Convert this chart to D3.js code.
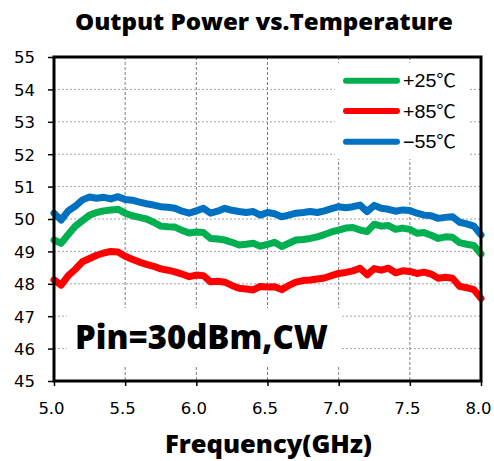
<!DOCTYPE html>
<html>
<head>
<meta charset="utf-8">
<script src="https://cdn.jsdelivr.net/npm/d3@7"></script>
<style>
  html, body { margin: 0; padding: 0; background: #fff; }
  svg { display: block; }
</style>
</head>
<body>
<svg id="chart" width="494" height="461"></svg>
<script>
const freq = [5.00,5.05,5.10,5.15,5.20,5.25,5.30,5.35,5.40,5.45,5.50,5.55,5.60,5.65,5.70,5.75,5.80,5.85,5.90,5.95,
  6.00,6.05,6.10,6.15,6.20,6.25,6.30,6.35,6.40,6.45,6.50,6.55,6.60,6.65,6.70,6.75,6.80,6.85,6.90,6.95,
  7.00,7.05,7.10,7.15,7.20,7.25,7.30,7.35,7.40,7.45,7.50,7.55,7.60,7.65,7.70,7.75,7.80,7.85,7.90,7.95,8.00];

const p25 = [49.35,49.25,49.52,49.78,49.95,50.12,50.20,50.25,50.28,50.30,50.18,50.10,50.05,50.00,49.90,49.78,49.76,49.75,49.65,49.57,
  49.60,49.58,49.40,49.38,49.35,49.28,49.20,49.22,49.25,49.16,49.22,49.28,49.15,49.25,49.35,49.37,49.40,49.45,49.52,49.60,
  49.66,49.72,49.74,49.66,49.61,49.84,49.78,49.80,49.68,49.72,49.68,49.56,49.58,49.50,49.40,49.45,49.44,49.27,49.22,49.18,48.92];

const p85 = [48.12,47.96,48.25,48.45,48.68,48.78,48.88,48.95,49.00,48.98,48.85,48.76,48.67,48.60,48.54,48.46,48.42,48.37,48.30,48.22,
  48.27,48.25,48.06,48.08,48.05,47.95,47.86,47.84,47.81,47.92,47.90,47.91,47.82,47.95,48.05,48.10,48.12,48.15,48.18,48.25,
  48.32,48.35,48.40,48.48,48.28,48.47,48.42,48.48,48.34,48.40,48.38,48.32,48.36,48.30,48.17,48.20,48.17,47.92,47.88,47.82,47.55];

const m55 = [50.18,49.97,50.25,50.40,50.59,50.68,50.64,50.67,50.62,50.69,50.60,50.58,50.52,50.47,50.43,50.38,50.36,50.33,50.24,50.18,
  50.25,50.33,50.18,50.24,50.33,50.27,50.23,50.20,50.23,50.12,50.20,50.16,50.07,50.12,50.18,50.20,50.23,50.20,50.25,50.32,
  50.38,50.35,50.38,50.43,50.23,50.42,50.33,50.30,50.24,50.28,50.26,50.18,50.12,50.10,50.02,50.05,50.07,49.90,49.85,49.78,49.51];

const seriesNames = ["+25℃", "+85℃", "−55℃"];
const seriesColors = ["#00B050", "#FF0000", "#0070C0"];
const xTicks = [5.0,5.5,6.0,6.5,7.0,7.5,8.0];
const yTicks = [45,46,47,48,49,50,51,52,53,54,55];
const titleText = "Output Power vs.Temperature";
const xTitle = "Frequency(GHz)";
const noteText = "Pin=30dBm,CW";

const svg = d3.select("#chart");
const L = 54, R = 481, T = 57, B = 381;
const x = d3.scaleLinear().domain([5, 8]).range([L, R]);
const y = d3.scaleLinear().domain([45, 55]).range([B, T]);

// grid
const g = svg.append("g");
g.selectAll(".hg").data(yTicks.slice(1, -1)).enter().append("line")
  .attr("x1", L).attr("x2", R).attr("y1", d => y(d)).attr("y2", d => y(d))
  .attr("stroke", "#a6a6a6").attr("stroke-width", 1).attr("stroke-dasharray", "2,2");
g.selectAll(".vg").data(xTicks.slice(1, -1)).enter().append("line")
  .attr("y1", T).attr("y2", B).attr("x1", d => x(d)).attr("x2", d => x(d))
  .attr("stroke", "#7f7f7f").attr("stroke-width", 1).attr("stroke-dasharray", "3,2");

// white boxes (legend & note) covering grid
svg.append("rect").attr("x", 335).attr("y", 63).attr("width", 133).attr("height", 96).attr("fill", "#fff");
svg.append("rect").attr("x", 67).attr("y", 308).attr("width", 273).attr("height", 57).attr("fill", "#fff");

// series
const series = [p25, p85, m55];
const line = d3.line().x((d, i) => x(freq[i])).y(d => y(d)).curve(d3.curveLinear);
[1, 0, 2].forEach(k => {
  svg.append("path").datum(series[k]).attr("d", line)
    .attr("fill", "none").attr("stroke", seriesColors[k])
    .attr("stroke-width", 7).attr("stroke-linejoin", "round").attr("stroke-linecap", "round");
});

// axes
const yAxis = d3.axisLeft(y).tickValues(yTicks).tickSize(6).tickFormat(d3.format("d"));
const xAxis = d3.axisBottom(x).tickValues(xTicks).tickSize(5).tickFormat(d3.format(".1f"));
const ya = svg.append("g").attr("transform", `translate(${L},0)`).call(yAxis);
const xa = svg.append("g").attr("transform", `translate(0,${B})`).call(xAxis);
[ya, xa].forEach(a => {
  a.select(".domain").remove();
  a.selectAll(".tick line").attr("stroke", "#000").attr("stroke-width", 1.5);
  a.selectAll("text").attr("fill", "#000").style("font-family", "'DejaVu Sans', Verdana, sans-serif").style("font-size", "16.5px");
});
ya.selectAll("text").attr("x", -19).attr("dy", "0.36em");
xa.selectAll("text").attr("y", 21).attr("dx", -3);

// frame
svg.append("rect").attr("x", L).attr("y", T).attr("width", R - L).attr("height", B - T)
  .attr("fill", "none").attr("stroke", "#000").attr("stroke-width", 3);

// legend
const lg = svg.append("g");
const legY = [80.7, 111, 141.7];
seriesNames.forEach((n, i) => {
  lg.append("line").attr("x1", 346).attr("x2", 397).attr("y1", legY[i]).attr("y2", legY[i])
    .attr("stroke", seriesColors[i]).attr("stroke-width", 6).attr("stroke-linecap", "round");
  lg.append("text").attr("x", 403).attr("y", legY[i] + 6.5).text(n)
    .attr("textLength", 53).attr("lengthAdjust", "spacingAndGlyphs")
    .style("font-family", "'Liberation Sans Narrow', 'Liberation Sans', 'Noto Sans CJK JP', sans-serif")
    .style("font-size", "18px").attr("fill", "#000");
});

// titles
svg.append("text").attr("x", 264).attr("y", 30).attr("text-anchor", "middle").text(titleText)
  .attr("textLength", 378).attr("lengthAdjust", "spacingAndGlyphs")
  .style("font-family", "'Open Sans', Lato, sans-serif").style("font-weight", "800").style("font-size", "23px");
svg.append("text").attr("x", 268.5).attr("y", 453).attr("text-anchor", "middle").text(xTitle)
  .attr("textLength", 207).attr("lengthAdjust", "spacingAndGlyphs")
  .style("font-family", "'Open Sans', Lato, sans-serif").style("font-weight", "800").style("font-size", "25px");
svg.append("text").attr("x", 75).attr("y", 349).text(noteText)
  .attr("textLength", 253).attr("lengthAdjust", "spacingAndGlyphs")
  .style("font-family", "'Open Sans', Lato, sans-serif").style("font-weight", "800").style("font-size", "33px");
</script>
</body>
</html>
